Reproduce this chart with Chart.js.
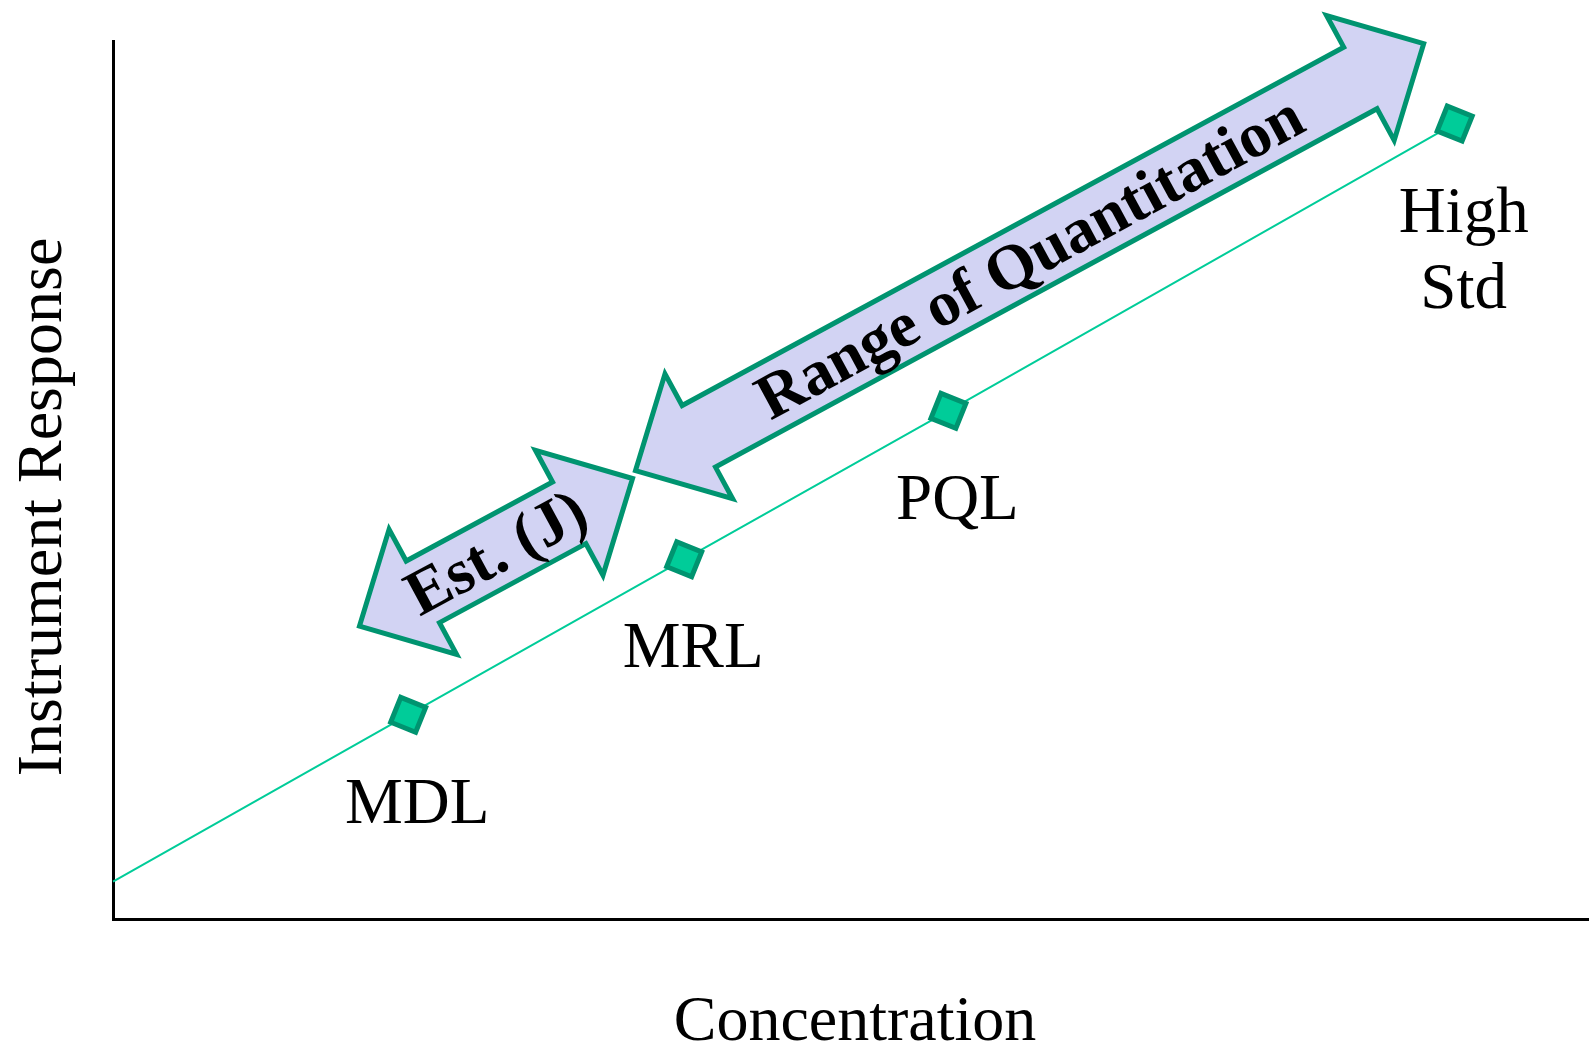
<!DOCTYPE html>
<html>
<head>
<meta charset="utf-8">
<script src="https://cdn.jsdelivr.net/npm/chart.js@4.4.1/dist/chart.umd.min.js"></script>
<style>
  html, body { margin: 0; padding: 0; background: #fff; }
  #wrap { width: 1589px; height: 1045px; position: relative; }
</style>
</head>
<body>
<div id="wrap"><canvas id="calib"></canvas></div>
<script>
// calibration curve (arbitrary units)
const concentration = [0, 20, 38.7, 56.6, 90.9];
const response = [4.3, 23.3, 41, 57.9, 90.6];
const pointNames = ['', 'MDL', 'MRL', 'PQL', 'High\nStd'];

// double-headed arrows drawn above the curve (data units)
const arrowText = ['Est. (J)', 'Range of Quantitation'];
const arrowFromX = [16.7, 35.4];
const arrowFromY = [33.4, 51.1];
const arrowToX = [35.2, 88.8];
const arrowToY = [50.2, 99.7];

const serif = "'Times New Roman', 'Liberation Serif', serif";

const arrowPlugin = {
  id: 'arrows',
  afterDatasetsDraw(chart) {
    const ctx = chart.ctx;
    const xs = chart.scales.x, ys = chart.scales.y;
    const hl = 72, hw = 142, sw = 70;
    arrowText.forEach(function(txt, i) {
      const x0 = xs.getPixelForValue(arrowFromX[i]), y0 = ys.getPixelForValue(arrowFromY[i]);
      const x1 = xs.getPixelForValue(arrowToX[i]), y1 = ys.getPixelForValue(arrowToY[i]);
      const len = Math.hypot(x1 - x0, y1 - y0);
      const ux = (x1 - x0) / len, uy = (y1 - y0) / len;
      const nx = -uy, ny = ux;
      const p = (ax, ay, d, w) => [ax + ux * d + nx * w, ay + uy * d + ny * w];
      const pts = [
        [x0, y0],
        p(x0, y0, hl, hw / 2), p(x0, y0, hl, sw / 2),
        p(x1, y1, -hl, sw / 2), p(x1, y1, -hl, hw / 2),
        [x1, y1],
        p(x1, y1, -hl, -hw / 2), p(x1, y1, -hl, -sw / 2),
        p(x0, y0, hl, -sw / 2), p(x0, y0, hl, -hw / 2)
      ];
      ctx.save();
      ctx.beginPath();
      pts.forEach((q, k) => k ? ctx.lineTo(q[0], q[1]) : ctx.moveTo(q[0], q[1]));
      ctx.closePath();
      ctx.fillStyle = '#d2d3f3';
      ctx.fill();
      ctx.lineWidth = 5;
      ctx.lineJoin = 'miter';
      ctx.strokeStyle = '#009470';
      ctx.stroke();
      ctx.translate((x0 + x1) / 2, (y0 + y1) / 2);
      ctx.rotate(Math.atan2(uy, ux));
      ctx.fillStyle = '#000';
      ctx.font = 'bold 64px ' + serif;
      ctx.textAlign = 'center';
      ctx.textBaseline = 'middle';
      ctx.fillText(txt, 0, 4);
      ctx.restore();
    });
  }
};

const textPlugin = {
  id: 'texts',
  afterDraw(chart) {
    const ctx = chart.ctx;
    const meta = chart.getDatasetMeta(0);
    ctx.save();
    ctx.fillStyle = '#000';
    ctx.font = '65px ' + serif;
    ctx.textAlign = 'center';
    ctx.textBaseline = 'alphabetic';
    pointNames.forEach(function(name, i) {
      if (!name) return;
      const pt = meta.data[i];
      name.split('\n').forEach(function(line, k) {
        ctx.fillText(line, pt.x + 9, pt.y + 108 + k * 76);
      });
    });
    // axis titles
    ctx.font = '64px ' + serif;
    ctx.fillText('Concentration', 855, 1040);
    ctx.translate(61, 507);
    ctx.rotate(-Math.PI / 2);
    ctx.fillText('Instrument Response', 0, 0);
    ctx.restore();
  }
};

new Chart(document.getElementById('calib'), {
  type: 'scatter',
  data: {
    datasets: [{
      data: concentration.map((c, i) => ({ x: c, y: response[i] })),
      showLine: true,
      borderColor: '#00cc99',
      borderWidth: 2,
      pointStyle: 'rect',
      pointRotation: 22,
      pointRadius: [0, 19, 19, 19, 19],
      pointBackgroundColor: '#00cc99',
      pointBorderColor: '#009470',
      pointBorderWidth: 5,
      clip: false
    }]
  },
  options: {
    responsive: true,
    maintainAspectRatio: false,
    devicePixelRatio: 1,
    animation: false,
    layout: { autoPadding: false, padding: { left: 113, top: 41, right: 0, bottom: 125.5 } },
    scales: {
      x: {
        min: 0, max: 100,
        ticks: { display: false },
        grid: { display: false, drawTicks: false },
        border: { display: true, color: '#000', width: 3 }
      },
      y: {
        min: 0, max: 100,
        ticks: { display: false },
        grid: { display: false, drawTicks: false },
        border: { display: true, color: '#000', width: 3 }
      }
    },
    plugins: {
      legend: { display: false },
      tooltip: { enabled: false }
    }
  },
  plugins: [arrowPlugin, textPlugin]
});
</script>
</body>
</html>
